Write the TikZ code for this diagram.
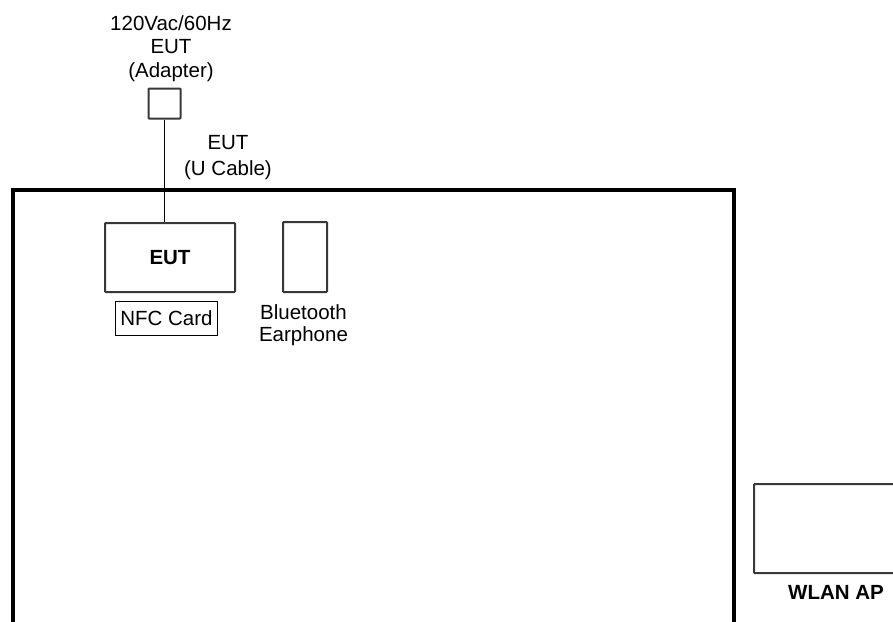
\documentclass[tikz,border=0pt]{standalone}
\usepackage{fontspec}
\setmainfont{Liberation Sans}
\begin{document}
\begin{tikzpicture}[x=1pt,y=-1pt,
  txt/.style={font=\fontsize{20.5}{23.5}\selectfont, inner sep=0pt, align=center},
  box/.style={draw=black!78, line width=2pt, rounded corners=0.8pt, inner sep=0pt},
  frame/.style={draw=black, line width=4pt, inner sep=0pt},
  wire/.style={draw=black, line width=1.8pt}]
\clip (0,0) rectangle (893,621);
\useasboundingbox (0,0) rectangle (893,621);
% room
\node[frame, minimum width=721.5pt, minimum height=470pt] (room) at (373.25,425) {};
% adapter
\node[box, minimum width=32pt, minimum height=30pt] (adapter) at (164.5,103.5) {};
\node[txt] (adlbl) at (171,48.5) {120Vac/60Hz\\EUT\\(Adapter)};
% EUT
\node[box, minimum width=130pt, minimum height=69pt, font=\fontsize{20.5}{23.5}\selectfont\bfseries] (eut) at (170,257.5) {EUT};
\draw[wire] (adapter.south) -- (adapter.south |- eut.north);
\node[txt, font=\fontsize{20.5}{26}\selectfont] (cable) at (228,157.5) {EUT\\(U Cable)};
% NFC card
\node[draw=black, line width=1.5pt, minimum width=102pt, minimum height=34pt, inner sep=0pt, font=\fontsize{20.5}{23.5}\selectfont] (nfc) at (166.5,318.5) {NFC Card};
% Bluetooth earphone
\node[box, minimum width=44pt, minimum height=70pt] (bt) at (305,257) {};
\node[txt, font=\fontsize{20.5}{22}\selectfont] (btlbl) at (303.5,325.5) {Bluetooth\\Earphone};
% WLAN AP
\node[box, minimum width=180pt, minimum height=89pt] (wlan) at (844,528.5) {};
\node[txt, font=\fontsize{20.5}{23.5}\selectfont\bfseries] (wlanlbl) at (836,592) {WLAN AP};
\end{tikzpicture}
\end{document}
